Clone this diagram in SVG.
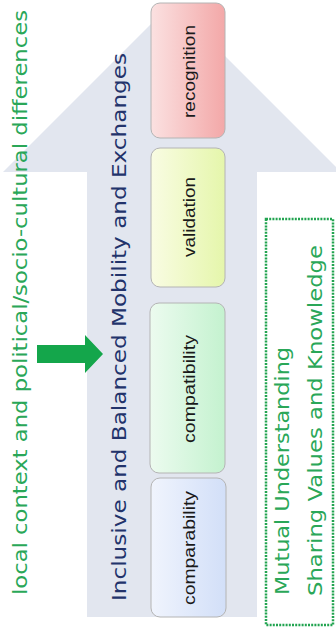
<svg xmlns="http://www.w3.org/2000/svg" width="336" height="633" viewBox="0 0 336 633">
  <defs>
    <linearGradient id="gRec" x1="0" y1="0" x2="1" y2="0">
      <stop offset="0" stop-color="#fbe1e1"/>
      <stop offset="1" stop-color="#f3a8a8"/>
    </linearGradient>
    <linearGradient id="gVal" x1="0" y1="0" x2="1" y2="0">
      <stop offset="0" stop-color="#f9fce3"/>
      <stop offset="1" stop-color="#e5f6ab"/>
    </linearGradient>
    <linearGradient id="gCompat" x1="0" y1="0" x2="1" y2="0">
      <stop offset="0" stop-color="#ecfbef"/>
      <stop offset="1" stop-color="#c4f2cf"/>
    </linearGradient>
    <linearGradient id="gCompar" x1="0" y1="0" x2="1" y2="0">
      <stop offset="0" stop-color="#f0f4fd"/>
      <stop offset="1" stop-color="#d2dff8"/>
    </linearGradient>
  </defs>
  <style>
    .big { fill: #e2e6ef; }
    .box { stroke: #b4b4b4; stroke-width: 1; }
    .lbl { font-family: "Liberation Sans", Arial, sans-serif; font-size: 16.5px; fill: #1a1a1a; text-anchor: middle; }
    .gtxt { font-family: "DejaVu Sans", Verdana, sans-serif; font-size: 19.5px; fill: #2aa758; }
    .btxt { font-family: "DejaVu Sans", Verdana, sans-serif; font-size: 20px; fill: #22336b; }
    .garrow { fill: #14a64b; }
    .dotbox { fill: none; stroke: #22a450; stroke-width: 2.5; stroke-dasharray: 2 1.2; }
  </style>

  <g id="big-arrow">
    <polygon class="big" points="172,3 341,172 257,172 257,617 87,617 87,172 3,172"/>
    <text class="btxt" transform="translate(126,601) rotate(-90)" textLength="548" lengthAdjust="spacingAndGlyphs">Inclusive and Balanced Mobility and Exchanges</text>
  </g>

  <g id="context-label">
    <text class="gtxt" transform="translate(27,595) rotate(-90)" textLength="585" lengthAdjust="spacingAndGlyphs">local context and political/socio-cultural differences</text>
  </g>

  <g id="recognition">
    <rect class="box" x="151" y="3" width="74" height="135" rx="9" fill="url(#gRec)"/>
    <text class="lbl" transform="translate(195,71.5) rotate(-90)" textLength="93" lengthAdjust="spacingAndGlyphs">recognition</text>
  </g>
  <g id="validation">
    <rect class="box" x="151" y="148" width="74" height="139" rx="9" fill="url(#gVal)"/>
    <text class="lbl" transform="translate(195,217) rotate(-90)" textLength="80" lengthAdjust="spacingAndGlyphs">validation</text>
  </g>
  <g id="compatibility">
    <rect class="box" x="150" y="303" width="75" height="170" rx="9" fill="url(#gCompat)"/>
    <text class="lbl" transform="translate(195,389) rotate(-90)" textLength="108" lengthAdjust="spacingAndGlyphs">compatibility</text>
  </g>
  <g id="comparability">
    <rect class="box" x="151" y="478" width="75" height="139" rx="9" fill="url(#gCompar)"/>
    <text class="lbl" transform="translate(195,548) rotate(-90)" textLength="114" lengthAdjust="spacingAndGlyphs">comparability</text>
  </g>

  <g id="mutual-box">
    <rect class="dotbox" x="266" y="219" width="67" height="406"/>
    <text class="gtxt" transform="translate(289,595) rotate(-90)" textLength="248" lengthAdjust="spacingAndGlyphs">Mutual Understanding</text>
    <text class="gtxt" transform="translate(322,596) rotate(-90)" textLength="351" lengthAdjust="spacingAndGlyphs">Sharing Values and Knowledge</text>
  </g>

  <g id="connectors">
    <polygon class="garrow" points="37,345 85,345 85,335 103,354 85,373 85,363 37,363"/>
  </g>
</svg>
